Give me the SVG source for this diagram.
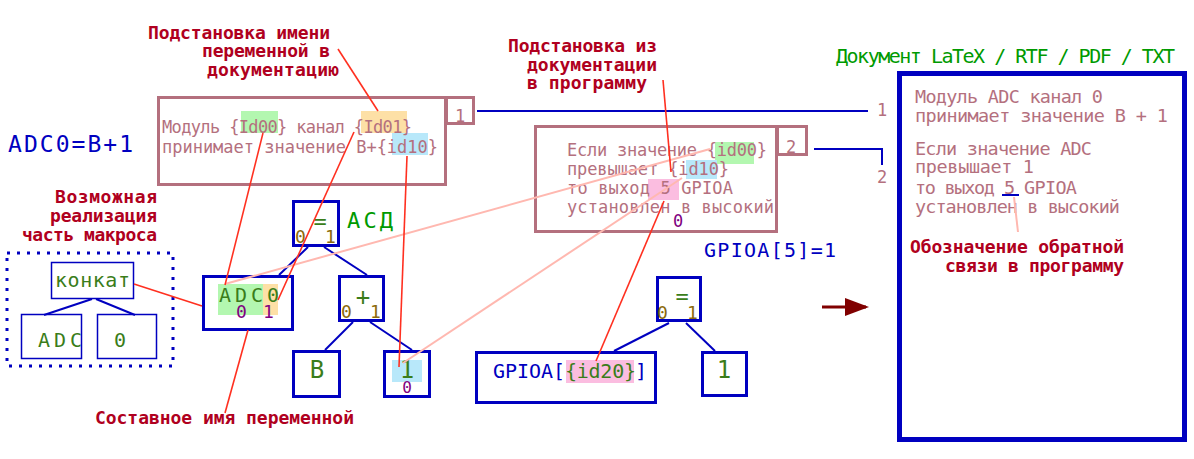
<svg xmlns="http://www.w3.org/2000/svg" width="1194" height="459" viewBox="0 0 1194 459">
<defs>
<style>
text{font-family:"DejaVu Sans Mono","Liberation Mono",monospace;}
.lbl{font-weight:bold;font-size:18px;fill:#b00020;}
.doc{font-size:17px;fill:#b4707e;}
.big{font-size:18.5px;fill:#b4707e;}
.docbox{fill:none;stroke:#b4707e;stroke-width:3;}
.node{fill:#fff;stroke:#0000c0;stroke-width:3;}
.thin{fill:#fff;stroke:#0000c0;stroke-width:1.5;}
.nt{fill:#3a7d1a;}
.blue{fill:#0000c0;}
.pur{fill:#800080;}
.brn{fill:#8c6a0c;font-size:18px;}
.edge{stroke:#0000c0;stroke-width:2;fill:none;}
.red{stroke:#ff3020;stroke-width:1.6;fill:none;}
.pink{stroke:#ffb8b0;stroke-width:2;fill:none;}
.hg{fill:#b3f7b0;}.ho{fill:#fde0a6;}.hb{fill:#b8e8fa;}.hp{fill:#fbbde0;}
</style>
<marker id="ah" markerWidth="8" markerHeight="6" refX="7" refY="3" orient="auto" markerUnits="strokeWidth">
<path d="M0,0 L8,3 L0,6 z" fill="#800000"/>
</marker>
</defs>
<rect width="1194" height="459" fill="#fff"/>

<g id="labels">
<text class="lbl" x="148" y="39" textLength="182">Подстановка имени</text>
<text class="lbl" x="202" y="57" textLength="128">переменной в</text>
<text class="lbl" x="207" y="76" textLength="132">документацию</text>
<text class="lbl" x="508" y="52" textLength="149">Подстановка из</text>
<text class="lbl" x="527" y="71" textLength="130">документации</text>
<text class="lbl" x="527" y="89" textLength="120">в программу</text>
<text class="lbl" x="55" y="203" textLength="102">Возможная</text>
<text class="lbl" x="50" y="222" textLength="107">реализация</text>
<text class="lbl" x="22" y="241" textLength="135">часть макроса</text>
<text class="lbl" x="95" y="424" textLength="259">Составное имя переменной</text>
<text class="lbl" x="910" y="253" textLength="214">Обозначение обратной</text>
<text class="lbl" x="945" y="272" textLength="179">связи в программу</text>
<text x="836" y="63" font-size="20" fill="#009a00" textLength="339">Документ LaTeX / RTF / PDF / TXT</text>
<text class="blue" x="8" y="152" font-size="23" textLength="125">ADC0=B+1</text>
<text class="blue" x="704" y="257" font-size="20" textLength="132">GPIOA[5]=1</text>
<text x="347" y="228" font-size="22" fill="#009a00" textLength="46">АСД</text>
</g>

<g id="doc1">
<rect class="docbox" x="158.5" y="97.5" width="287" height="87"/>
<rect class="docbox" x="446.5" y="97.5" width="27" height="26"/>
<text class="doc" x="455" y="122">1</text>
<rect class="hg" x="241" y="111" width="37" height="22"/>
<rect class="ho" x="361" y="111" width="46" height="22"/>
<rect class="hb" x="392" y="133" width="36" height="22"/>
<text class="doc" x="162" y="133" textLength="250">Модуль {Id00} канал {Id01}</text>
<text class="doc" x="162" y="153" textLength="276">принимает значение B+{id10}</text>
</g>

<g id="doc2">
<rect class="docbox" x="535.5" y="126.5" width="241" height="105"/>
<rect class="docbox" x="777.5" y="126.5" width="29" height="28"/>
<text class="doc" x="786" y="153">2</text>
<rect class="hg" x="715" y="142" width="39" height="22"/>
<rect class="hb" x="686" y="160" width="31" height="19"/>
<rect class="hp" x="648" y="179" width="31" height="21"/>
<text class="doc" x="567" y="156" textLength="200">Если значение {id00}</text>
<text class="doc" x="567" y="175" textLength="162">превышает {id10}</text>
<text class="doc" x="567" y="194" textLength="166">то выход 5 GPIOA</text>
<text class="doc" x="567" y="213" textLength="207">установлен в высокий</text>
<text class="pur" x="673" y="227" font-size="17">0</text>
</g>

<g id="document">
<rect x="899.5" y="73.5" width="285" height="366" fill="none" stroke="#0000c0" stroke-width="5"/>
<text class="big" x="915" y="103" textLength="188">Модуль ADC канал 0</text>
<text class="big" x="915" y="122" textLength="253">принимает значение B + 1</text>
<text class="big" x="915" y="155" textLength="177">Если значение ADC</text>
<text class="big" x="915" y="173" textLength="119">превышает 1</text>
<text class="big" x="915" y="194" textLength="80">то выход</text>
<text class="big" x="1004" y="194" fill="#eca8b8">5</text>
<text class="big" x="1024" y="194" textLength="53">GPIOA</text>
<text class="big" x="915" y="213" textLength="205">установлен в высокий</text>
<line x1="1002" y1="195" x2="1019" y2="195" stroke="#0000c0" stroke-width="2"/>
</g>

<g id="macro">
<rect x="7" y="253" width="166" height="113" fill="none" stroke="#0000c0" stroke-width="3" stroke-dasharray="3 7"/>
<rect class="thin" x="51.5" y="262.5" width="82" height="36"/>
<text class="nt" x="55" y="287" font-size="20" textLength="75">конкат</text>
<rect class="thin" x="21.5" y="314.5" width="60" height="44"/>
<text class="nt" x="38" y="347" font-size="20" textLength="44">ADC</text>
<rect class="thin" x="97.5" y="314.5" width="59" height="44"/>
<text class="nt" x="114" y="347" font-size="20">0</text>
<line class="edge" x1="92" y1="299" x2="44" y2="315" stroke-width="1.5"/>
<line class="edge" x1="96" y1="299" x2="135" y2="315" stroke-width="1.5"/>
</g>

<g id="connectors">
<line class="edge" x1="308" y1="247" x2="279" y2="275"/>
<line class="edge" x1="324" y1="247" x2="367" y2="275"/>
<line class="edge" x1="353" y1="322" x2="325" y2="350"/>
<line class="edge" x1="370" y1="322" x2="412" y2="350"/>
<line class="edge" x1="669" y1="323" x2="614" y2="351"/>
<line class="edge" x1="686" y1="323" x2="715" y2="351"/>
<polyline class="edge" points="477,111 868,111"/>
<polyline class="edge" points="814,149 882,149 882,165"/>
<text class="doc" x="877" y="116">1</text>
<text class="doc" x="877" y="183">2</text>
<line x1="822" y1="307" x2="866" y2="307" stroke="#800000" stroke-width="3" marker-end="url(#ah)"/>
</g>

<g id="eq1">
<rect class="node" x="293.5" y="201.5" width="45" height="44"/>
<text class="nt" x="320" y="229" font-size="22" text-anchor="middle">=</text>
<text class="brn" x="295" y="243">0</text>
<text class="brn" x="325" y="243">1</text>
</g>
<g id="adc0">
<rect class="node" x="203.5" y="276.5" width="89" height="53"/>
<rect class="hg" x="218" y="284" width="45" height="31"/>
<rect class="ho" x="263" y="284" width="15" height="31"/>
<text class="nt" x="219" y="302" font-size="20" textLength="60">ADC0</text>
<text class="pur" x="236" y="318" font-size="18">0</text>
<text class="pur" x="263" y="318" font-size="18">1</text>
</g>
<g id="plus">
<rect class="node" x="339.5" y="276.5" width="44" height="44"/>
<text class="nt" x="363" y="305" font-size="24" text-anchor="middle">+</text>
<text class="brn" x="341" y="318">0</text>
<text class="brn" x="370" y="318">1</text>
</g>
<g id="nodeB">
<rect class="node" x="293.5" y="351.5" width="46" height="45"/>
<text class="nt" x="317" y="378" font-size="24" text-anchor="middle">B</text>
</g>
<g id="node1">
<rect class="node" x="384.5" y="351.5" width="45" height="45"/>
<rect class="hb" x="392" y="360" width="30" height="22"/>
<text class="nt" x="407" y="378" font-size="24" text-anchor="middle">1</text>
<text class="pur" x="407" y="393" font-size="16" text-anchor="middle">0</text>
</g>
<g id="gpioa">
<rect class="node" x="476.5" y="352.5" width="179" height="50"/>
<rect class="hp" x="566" y="360" width="68" height="23"/>
<text class="blue" x="493" y="378" font-size="20" textLength="72">GPIOA[</text>
<text class="nt" x="565" y="378" font-size="20" textLength="71">{id20}</text>
<text class="blue" x="635" y="378" font-size="20">]</text>
</g>
<g id="eq2">
<rect class="node" x="657.5" y="277.5" width="43" height="43"/>
<text class="nt" x="682" y="304" font-size="22" text-anchor="middle">=</text>
<text class="brn" x="657" y="319">0</text>
<text class="brn" x="687" y="319">1</text>
</g>
<g id="one2">
<rect class="node" x="702.5" y="352.5" width="44" height="43"/>
<text class="nt" x="724" y="378" font-size="24" text-anchor="middle">1</text>
</g>

<g id="annotation-lines">
<line class="pink" x1="710" y1="149" x2="225" y2="284"/>
<line class="pink" x1="682" y1="178" x2="403" y2="363"/>
<line class="pink" x1="1014" y1="197" x2="1018" y2="232"/>
<line class="red" x1="263" y1="133" x2="225" y2="285"/>
<line class="red" x1="354" y1="132" x2="278" y2="300"/>
<line class="red" x1="407" y1="156" x2="399" y2="367"/>
<line class="red" x1="338" y1="49" x2="378" y2="111"/>
<line class="red" x1="225" y1="413" x2="248" y2="330"/>
<line class="red" x1="663" y1="80" x2="671" y2="172"/>
<line class="red" x1="664" y1="201" x2="596" y2="361"/>
<line class="red" x1="134" y1="284" x2="202" y2="306"/>
</g>
</svg>
